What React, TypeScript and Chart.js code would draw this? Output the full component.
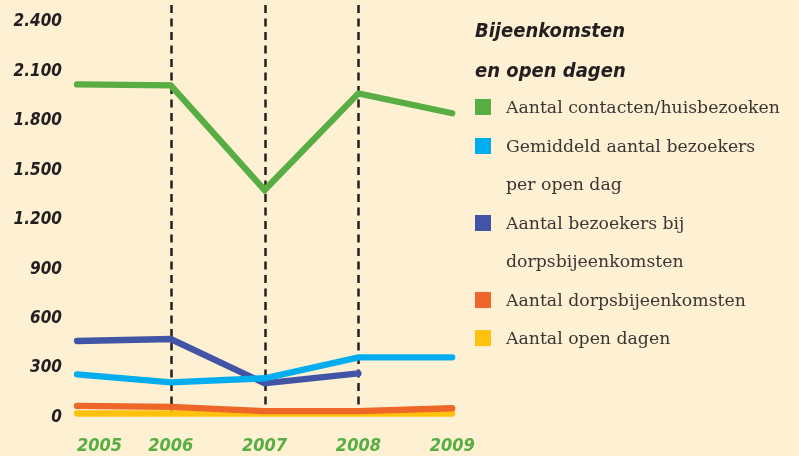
import React, { useEffect, useRef } from "react";
import { Chart, registerables } from "chart.js";

Chart.register(...registerables);

const years = [2005, 2006, 2007, 2008, 2009];
const contacten = [2009, 2003, 1368, 1955, 1834];
const gemiddeldPerOpenDag = [250, 201, 226, 353, 353];
const bezoekersDorpsbijeenkomsten = [452, 464, 195, 256, null];
const dorpsbijeenkomsten = [58, 52, 27, 27, 44];
const openDagen = [12, 12, 11, 11, 12];
const dashedYears = [2006, 2007, 2008];
const yMin = 0;
const yMax = 2400;
const yStep = 300;

const legendTitle = ["Bijeenkomsten", "en open dagen"];
const seriesLabels: string[][] = [
  ["Aantal contacten/huisbezoeken"],
  ["Gemiddeld aantal bezoekers", "per open dag"],
  ["Aantal bezoekers bij", "dorpsbijeenkomsten"],
  ["Aantal dorpsbijeenkomsten"],
  ["Aantal open dagen"],
];
const seriesValues = [contacten, gemiddeldPerOpenDag, bezoekersDorpsbijeenkomsten, dorpsbijeenkomsten, openDagen];
const seriesColors = ["#58ad43", "#00aeef", "#4254a5", "#ee6628", "#fec20e"];

const BG = "#fef0d2";
const condensed = "'DejaVu Sans Condensed', 'Liberation Sans Narrow', sans-serif";

function formatNl(v: number) {
  return String(v).replace(/\B(?=(\d{3})+(?!\d))/g, ".");
}

const dashPlugin = {
  id: "dashes",
  beforeDatasetsDraw(chart: any) {
    const { ctx, scales } = chart;
    const xs = scales.x;
    const ys = scales.y;
    ctx.save();
    ctx.strokeStyle = "#231f20";
    ctx.lineWidth = 2.5;
    ctx.setLineDash([8, 5.5]);
    dashedYears.forEach((yr) => {
      const x = Math.round(xs.getPixelForValue(yr)) + 0.5;
      ctx.beginPath();
      ctx.moveTo(x, 5);
      ctx.lineTo(x, ys.getPixelForValue(0));
      ctx.stroke();
    });
    ctx.restore();
  },
};

export default function App() {
  const ref = useRef<HTMLCanvasElement>(null);

  useEffect(() => {
    const canvas = ref.current;
    if (!canvas) return;
    const chart = new Chart(canvas, {
      type: "line",
      data: {
        datasets: seriesValues.map((vals, i) => ({
          label: seriesLabels[i].join(" "),
          data: years.map((yr, j) => ({ x: yr, y: vals[j] as any })),
          borderColor: seriesColors[i],
          backgroundColor: seriesColors[i],
          borderWidth: 6.3,
          borderCapStyle: "round",
          borderJoinStyle: "miter",
          pointRadius: 0,
          pointHoverRadius: 0,
          tension: 0,
          fill: false,
          clip: false as any,
          spanGaps: false,
        })),
      },
      options: {
        responsive: false,
        animation: false,
        events: [],
        layout: { padding: { left: 0, right: 253, top: 20, bottom: 0 } },
        plugins: {
          legend: { display: false },
          tooltip: { enabled: false },
          title: { display: false },
        },
        scales: {
          x: {
            type: "linear",
            min: 2005,
            max: 2010,
            grid: { display: false, drawTicks: false },
            border: { display: false },
            afterFit: (s: any) => {
              s.height = 40.5;
            },
            ticks: {
              stepSize: 1,
              align: "inner",
              maxRotation: 0,
              autoSkip: false,
              padding: 20,
              color: "#58ad43",
              font: { family: condensed, size: 18, weight: "bold", style: "italic" },
              callback: (v: any) => (v === 2010 ? "" : String(v)),
            },
          },
          y: {
            min: yMin,
            max: yMax,
            grid: { display: false, drawTicks: false },
            border: { display: false },
            afterFit: (s: any) => {
              s.width = 77;
              s.paddingTop = 0;
              s.paddingBottom = 0;
            },
            ticks: {
              stepSize: yStep,
              padding: 15,
              labelOffset: 2,
              color: "#231f20",
              font: { family: condensed, size: 17, weight: "bold", style: "italic" },
              callback: (v: any) => formatNl(Number(v)),
            },
          },
        },
      },
      plugins: [dashPlugin],
    } as any);
    return () => chart.destroy();
  }, []);

  return (
    <div
      style={{
        position: "fixed",
        left: 0,
        top: 0,
        width: 799,
        height: 456,
        background: BG,
        overflow: "hidden",
      }}
    >
      <canvas ref={ref} width={799} height={456} style={{ position: "absolute", left: 0, top: 0 }} />
      <div
        style={{
          position: "absolute",
          left: 475,
          top: 10,
          fontFamily: condensed,
          fontWeight: "bold",
          fontStyle: "italic",
          fontSize: 20,
          lineHeight: "40px",
          color: "#231f20",
          whiteSpace: "nowrap",
        }}
      >
        {legendTitle.map((t, i) => (
          <div key={i}>{t}</div>
        ))}
      </div>
      <div
        style={{
          position: "absolute",
          left: 475,
          top: 88,
          fontFamily: "'DejaVu Serif', 'Liberation Serif', serif",
          fontSize: 17.3,
          lineHeight: "38.5px",
          color: "#3a3535",
          whiteSpace: "nowrap",
        }}
      >
        {seriesLabels.map((lines, i) => (
          <div key={i} style={{ position: "relative", paddingLeft: 31 }}>
            <span
              style={{
                position: "absolute",
                left: 0,
                top: 11,
                width: 16,
                height: 16,
                background: seriesColors[i],
              }}
            />
            {lines.map((l, k) => (
              <div key={k}>{l}</div>
            ))}
          </div>
        ))}
      </div>
    </div>
  );
}
